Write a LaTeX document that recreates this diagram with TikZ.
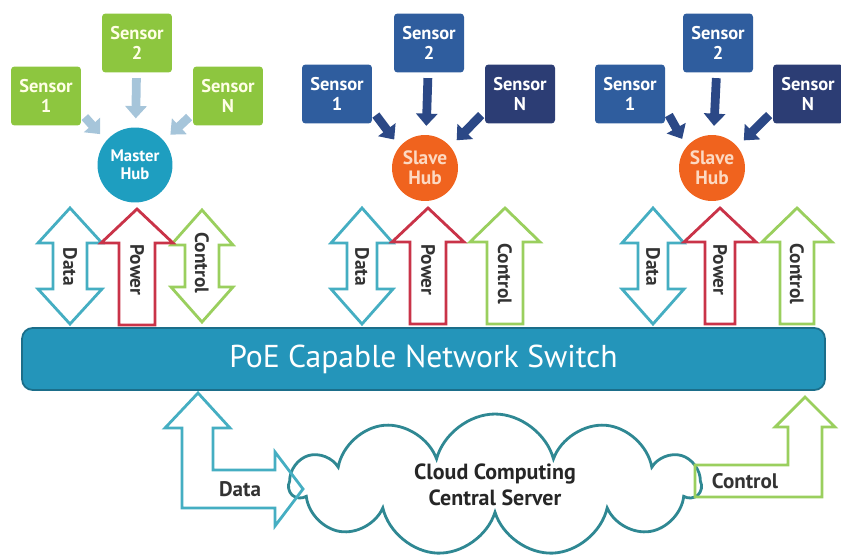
\documentclass[tikz,border=0pt]{standalone}
\usepackage{fontspec}
\setmainfont{PT Sans}
\usetikzlibrary{arrows.meta,shapes.symbols}

\definecolor{sensgreen}{HTML}{8DC63F}
\definecolor{sensblue}{HTML}{2F5D9E}
\definecolor{sensnavy}{HTML}{2C3D74}
\definecolor{hubteal}{HTML}{1E9EC0}
\definecolor{huborange}{HTML}{F0631E}
\definecolor{hubtext}{HTML}{FCD9C2}
\definecolor{switchteal}{HTML}{2495BA}
\definecolor{switchedge}{HTML}{1B6E8A}
\definecolor{datateal}{HTML}{45AEC2}
\definecolor{powerred}{HTML}{C93348}
\definecolor{ctrlgreen}{HTML}{9ACF5E}
\definecolor{cloudline}{HTML}{2F8893}
\definecolor{feedlight}{HTML}{A6C5DA}
\definecolor{feeddark}{HTML}{2B4886}

% block arrow, both ends: style, x, top, bottom, shaft half, head half
\newcommand{\dblblock}[6]{%
  \draw[#1] (#2,#3) -- (#2+#6,#3+35) -- (#2+#5,#3+35) -- (#2+#5,#4-35)
    -- (#2+#6,#4-35) -- (#2,#4) -- (#2-#6,#4-35) -- (#2-#5,#4-35)
    -- (#2-#5,#3+35) -- (#2-#6,#3+35) -- cycle;}
% block arrow, up only
\newcommand{\upblock}[6]{%
  \draw[#1] (#2,#3) -- (#2+#6,#3+34) -- (#2+#5,#3+34) -- (#2+#5,#4)
    -- (#2-#5,#4) -- (#2-#5,#3+34) -- (#2-#6,#3+34) -- cycle;}

\tikzset{
  sensor/.style={rounded corners=2pt,minimum width=1.4cm,minimum height=1.18cm,
    align=center,inner sep=1pt,font=\bfseries\fontsize{10.5}{11.5}\selectfont},
  hub/.style={circle,minimum size=1.32cm,align=center,inner sep=0pt,
    font=\bfseries\fontsize{11}{11.5}\selectfont},
  feed/.style={line width=5pt,-{Triangle[length=7pt,width=12pt]}},
  datablk/.style={draw=datateal,fill=white,line width=1.6pt},
  powerblk/.style={draw=powerred,fill=white,line width=1.6pt},
  ctrlblk/.style={draw=ctrlgreen,fill=white,line width=1.6pt},
  rlabel/.style={rotate=-90,text=black!80,font=\bfseries\fontsize{11}{12}\selectfont},
  blabel/.style={text=black!80,font=\bfseries\fontsize{12}{13}\selectfont}
}

\begin{document}
\begin{tikzpicture}[x=0.02cm,y=-0.02cm]
  \useasboundingbox (0,0) rectangle (841,558);

  % master hub and its sensors
  \node[sensor,fill=sensgreen,text=white!90!yellow] (m1) at (46,96) {Sensor\\1};
  \node[sensor,fill=sensgreen,text=white!90!yellow] (m2) at (137,43) {Sensor\\2};
  \node[sensor,fill=sensgreen,text=white!90!yellow] (mN) at (228,96) {Sensor\\N};
  \node[hub,fill=hubteal,text=white,minimum size=1.5cm,
        font=\bfseries\fontsize{9.5}{10.5}\selectfont] (mhub) at (135,165) {Master\\Hub};
  \draw[feed,feedlight,shorten <=3pt,shorten >=5pt] (m2) -- (mhub);
  \draw[feed,feedlight,shorten >=5pt] ([xshift=2pt,yshift=5pt]m1.south east) -- (mhub.140);
  \draw[feed,feedlight,shorten >=5pt] ([xshift=-2pt,yshift=5pt]mN.south west) -- (mhub.40);

  % first slave hub
  \node[sensor,fill=sensblue,text=white] (a1) at (337,94) {Sensor\\1};
  \node[sensor,fill=sensblue,text=white] (a2) at (429,43) {Sensor\\2};
  \node[sensor,fill=sensnavy,text=white] (aN) at (520,94) {Sensor\\N};
  \node[hub,fill=huborange,text=hubtext] (ahub) at (425,168) {Slave\\Hub};
  \draw[feed,feeddark,shorten <=3pt,shorten >=5pt] (a2) -- (ahub);
  \draw[feed,feeddark,shorten >=5pt] ([xshift=2pt,yshift=5pt]a1.south east) -- (ahub.140);
  \draw[feed,feeddark,shorten >=5pt] ([xshift=-2pt,yshift=5pt]aN.south west) -- (ahub.40);

  % second slave hub
  \node[sensor,fill=sensblue,text=white] (b1) at (630,94) {Sensor\\1};
  \node[sensor,fill=sensblue,text=white] (b2) at (718,43) {Sensor\\2};
  \node[sensor,fill=sensnavy,text=white] (bN) at (808,94) {Sensor\\N};
  \node[hub,fill=huborange,text=hubtext] (bhub) at (712,168) {Slave\\Hub};
  \draw[feed,feeddark,shorten <=3pt,shorten >=5pt] (b2) -- (bhub);
  \draw[feed,feeddark,shorten >=5pt] ([xshift=2pt,yshift=5pt]b1.south east) -- (bhub.140);
  \draw[feed,feeddark,shorten >=5pt] ([xshift=-2pt,yshift=5pt]bN.south west) -- (bhub.40);

  % links down to the switch
  \dblblock{datablk}{70}{208}{324}{17}{32}
  \dblblock{ctrlblk}{202}{210}{322}{17}{31}
  \upblock{powerblk}{137}{209}{325}{18}{36}
  \dblblock{datablk}{362}{208}{324}{15}{31}
  \upblock{ctrlblk}{505}{208}{324}{18}{35}
  \upblock{powerblk}{428}{208}{324}{18}{36}
  \dblblock{datablk}{653}{208}{324}{15}{31}
  \upblock{ctrlblk}{797}{208}{324}{17}{35}
  \upblock{powerblk}{720}{208}{324}{15}{36}

  \node[rlabel] (md) at (70,267) {Data};
  \node[rlabel] (mp) at (137,270) {Power};
  \node[rlabel] (mc) at (202,263) {Control};
  \node[rlabel] (ad) at (362,267) {Data};
  \node[rlabel] (ap) at (428,270) {Power};
  \node[rlabel] (ac) at (505,274) {Control};
  \node[rlabel] (bd) at (653,267) {Data};
  \node[rlabel] (bp) at (720,270) {Power};
  \node[rlabel] (bc) at (797,274) {Control};

  \node[rounded corners=6pt,fill=switchteal,draw=switchedge,line width=1pt,
        minimum width=16.06cm,minimum height=1.24cm,text=white,
        font=\fontsize{18}{20}\selectfont] (sw) at (423.5,359)
        {PoE Capable Network Switch};

  % server
  \node[cloud,cloud puffs=11,aspect=2.7,draw=cloudline,fill=white,line width=1.6pt,
        minimum width=8.2cm,minimum height=2.84cm,align=center,
        font=\bfseries\fontsize{12.5}{15}\selectfont,text=black!85] (srv) at (495,485)
        {Cloud Computing\\Central Server};

  \draw[datateal,line width=1.6pt] (198,393) -- (230,428) -- (213,428) -- (213,470)
    -- (275,470) -- (275,452) -- (303,489) -- (275,526) -- (275,508)
    -- (182,508) -- (182,428) -- (165,428) -- cycle;
  \node[blabel] (dl) at (240,489) {Data};

  \draw[ctrlgreen,line width=1.6pt] (805,397) -- (835,427) -- (822,427) -- (822,497)
    -- (695,497) -- (695,465) -- (788,465) -- (788,427) -- (775,427) -- cycle;
  \node[blabel] (cl) at (745,481) {Control};
\end{tikzpicture}
\end{document}
